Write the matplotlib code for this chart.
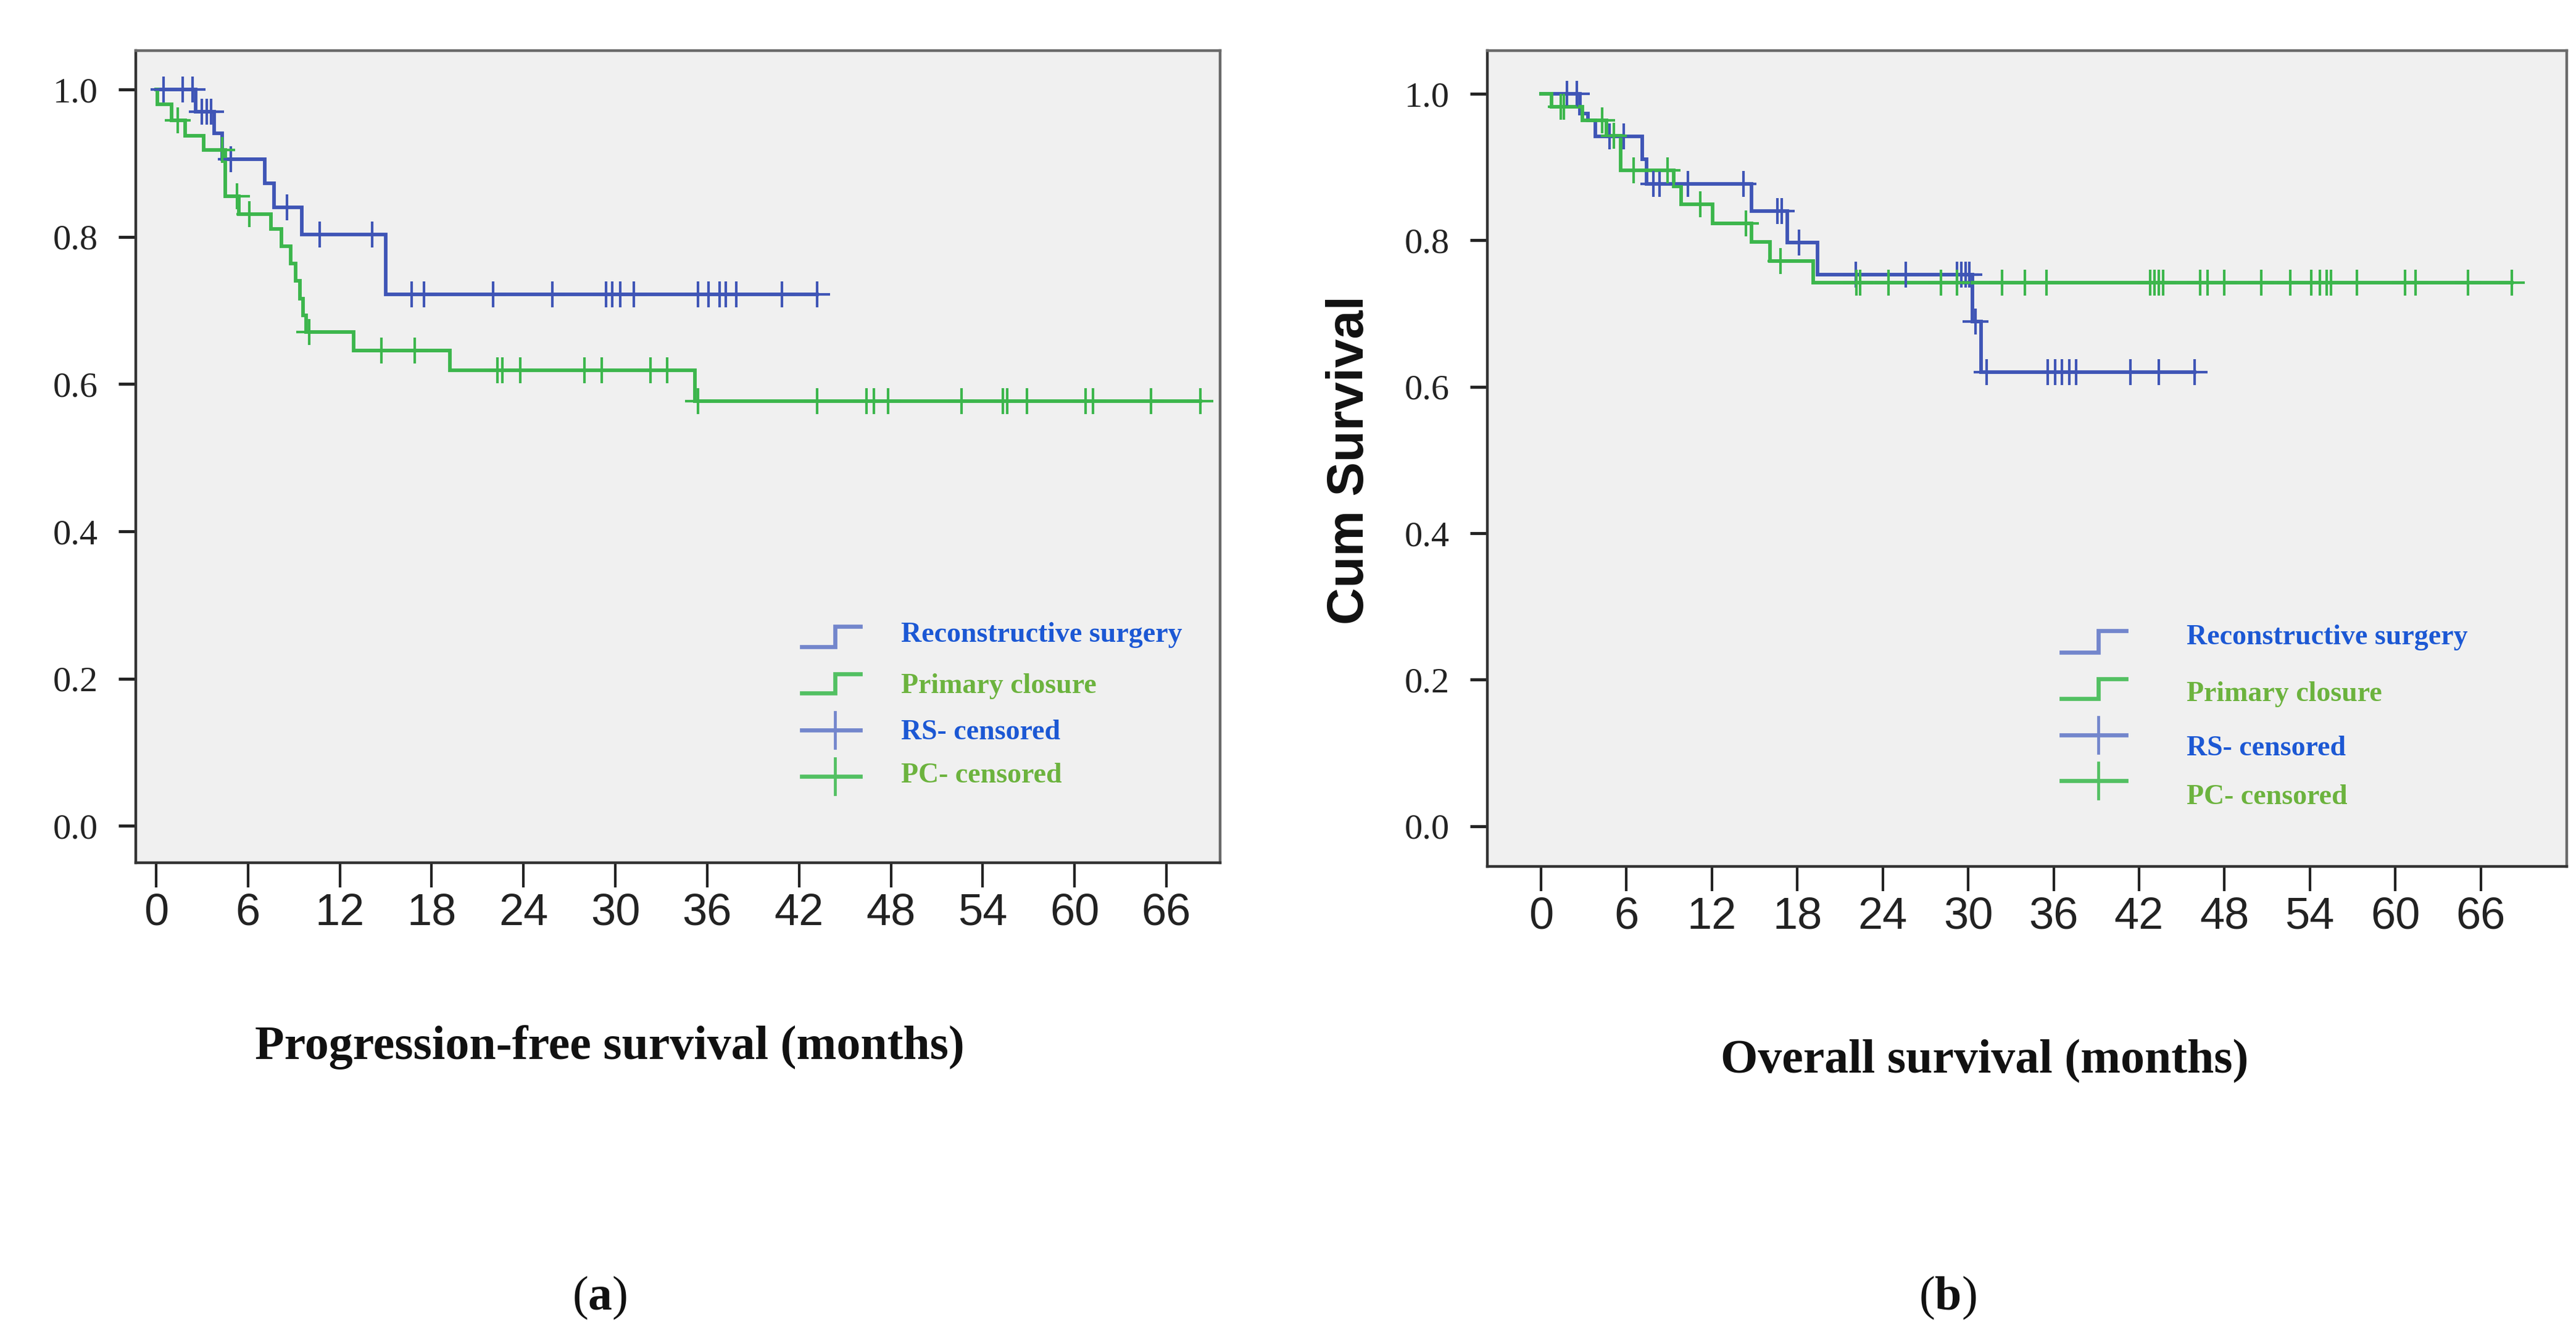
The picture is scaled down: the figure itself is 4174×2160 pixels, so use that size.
import matplotlib
matplotlib.use("Agg")
import matplotlib.pyplot as plt
import numpy as np
from matplotlib import font_manager

# progression-free survival, reconstructive surgery (RS) and primary closure (PC)
pfs_rs_times = [0, 2.6, 3.8, 4.3, 7.1, 7.7, 9.5, 15.0]
pfs_rs_surv = [1.0, 0.970, 0.941, 0.905, 0.873, 0.840, 0.803, 0.722]
pfs_rs_cens = [0.5, 1.75, 2.4, 3.0, 3.3, 3.6, 4.9, 8.55, 10.7, 14.1, 16.7, 17.5, 22.0, 25.9,
               29.4, 29.8, 30.3, 31.2, 35.4, 36.1, 36.8, 37.2, 37.9, 40.9, 43.2]

pfs_pc_times = [0, 0.1, 1.0, 1.9, 3.1, 4.5, 5.4, 7.5, 8.2, 8.8, 9.1, 9.4, 9.6, 9.8, 12.9, 19.2, 35.2]
pfs_pc_surv = [1.0, 0.980, 0.958, 0.937, 0.918, 0.855, 0.831, 0.811, 0.787, 0.764, 0.740, 0.716,
               0.693, 0.671, 0.6455, 0.6185, 0.577]
pfs_pc_cens = [1.4, 4.3, 5.3, 6.1, 10.0, 14.7, 16.9, 22.3, 22.6, 23.8, 28.0, 29.1, 32.3, 33.4,
               35.4, 43.2, 46.4, 46.9, 47.8, 52.6, 55.3, 55.6, 56.9, 60.7, 61.2, 65.0, 68.2]

# overall survival
os_rs_times = [0, 2.75, 3.3, 3.8, 7.1, 7.4, 14.8, 17.3, 19.4, 30.3, 30.9]
os_rs_surv = [1.0, 0.973, 0.964, 0.942, 0.911, 0.877, 0.840, 0.797, 0.753, 0.689, 0.620]
os_rs_cens = [1.8, 2.5, 4.8, 5.8, 7.9, 8.3, 10.3, 14.2, 16.6, 16.9, 18.1, 22.1, 25.6, 29.2,
              29.5, 29.8, 30.1, 30.5, 31.3, 35.6, 36.1, 36.6, 37.1, 37.6, 41.4, 43.4, 45.9]

os_pc_times = [0, 0.75, 2.9, 4.6, 5.6, 9.3, 9.85, 12.06, 14.8, 16.07, 19.1]
os_pc_surv = [1.0, 0.982, 0.964, 0.943, 0.896, 0.874, 0.849, 0.823, 0.798, 0.772, 0.742]
os_pc_cens = [1.4, 1.6, 4.3, 5.1, 6.5, 8.9, 11.2, 14.4, 16.8, 22.15, 22.4, 24.4, 28.1, 29.2,
              32.4, 34.0, 35.5, 42.8, 43.1, 43.4, 43.7, 46.3, 46.8, 48.0, 50.6, 52.6, 54.1,
              54.7, 55.2, 55.5, 57.3, 60.7, 61.4, 65.1, 68.2]

x_ticks = list(range(0, 67, 6))
y_ticks = [0.0, 0.2, 0.4, 0.6, 0.8, 1.0]
legend_labels = ["Reconstructive surgery", "Primary closure", "RS- censored", "PC- censored"]

BLUE = "#3f55b6"
GREEN = "#3cb64c"
BLUE_LIGHT = "#7386cc"
GREEN_LIGHT = "#52c062"
BLUE_TXT = "#1c58d4"
GREEN_TXT = "#6cb33e"

SERIF = "Liberation Serif"


def pick_font(names):
    for name in names:
        try:
            font_manager.findfont(font_manager.FontProperties(family=name), fallback_to_default=False)
            return name
        except Exception:
            continue
    return "DejaVu Sans"


NARROW = pick_font(["Liberation Sans Narrow", "DejaVu Sans Condensed", "Liberation Sans"])

plt.rcParams["mathtext.fontset"] = "custom"
plt.rcParams["mathtext.rm"] = SERIF
plt.rcParams["mathtext.bf"] = SERIF + ":bold"


def surv_at(times, surv, t):
    idx = np.searchsorted(np.asarray(times), np.asarray(t), side="right") - 1
    return np.asarray(surv)[idx]


def draw_curve(ax, times, surv, cens, color):
    end = max(cens[-1], times[-1])
    ax.step(list(times) + [end], list(surv) + [surv[-1]], where="post", color=color, lw=4.2,
            solid_joinstyle="miter", zorder=3)
    ax.plot(cens, surv_at(times, surv, cens), linestyle="none", marker="+", ms=30, mew=3.0,
            color=color, zorder=4)


def style_axes(ax, xlim, ylim):
    ax.set_facecolor("#f0f0f0")
    ax.set_xlim(*xlim)
    ax.set_ylim(*ylim)
    ax.set_xticks(x_ticks)
    ax.set_yticks(y_ticks)
    ax.set_yticklabels([f"{v:.1f}" for v in y_ticks], fontfamily=SERIF, fontsize=42, color="#222222")
    ax.set_xticklabels([str(v) for v in x_ticks], fontfamily=NARROW, fontsize=52, color="#222222")
    ax.tick_params(axis="y", length=20, width=3.5, pad=24, color="#222222")
    ax.tick_params(axis="x", length=29, width=3.0, pad=6, color="#222222")
    for side, spine in ax.spines.items():
        spine.set_linewidth(3.2)
        spine.set_color("#333333" if side in ("left", "bottom") else "#6a6a6a")


def draw_legend(ax, hx, rows, text_x, text_ys):
    # rows: (kind, colour, y) in axes fraction; hx = (x0, x1)
    x0, x1 = hx
    xm = x0 + 0.57 * (x1 - x0)
    tr = ax.transAxes
    for (kind, col, y), label, ty, tcol in zip(rows, legend_labels, text_ys,
                                             [BLUE_TXT, GREEN_TXT, BLUE_TXT, GREEN_TXT]):
        if kind == "step":
            lo, hi = y
            ax.plot([x0, xm, xm, x1], [lo, lo, hi, hi], color=col, lw=4.8, transform=tr,
                    solid_joinstyle="miter", clip_on=False, zorder=5)
        else:
            ax.plot([x0, x1], [y, y], color=col, lw=4.8, transform=tr, clip_on=False, zorder=5)
            ax.plot([xm, xm], [y - 0.022, y + 0.022], color=col, lw=3.4, transform=tr,
                    clip_on=False, zorder=5)
        ax.text(text_x, ty, label, transform=tr, fontfamily=SERIF, fontweight="bold",
                fontsize=33, color=tcol, va="center", ha="left")


fig = plt.figure(figsize=(41.74, 21.6), dpi=100)

ax1 = fig.add_axes([0.0527, 0.3528, 0.4209, 0.6093])
draw_curve(ax1, pfs_rs_times, pfs_rs_surv, pfs_rs_cens, BLUE)
draw_curve(ax1, pfs_pc_times, pfs_pc_surv, pfs_pc_cens, GREEN)
style_axes(ax1, (-1.33, 69.5), (-0.05, 1.053))
draw_legend(ax1, (0.614, 0.668),
            [("step", BLUE_LIGHT, (0.266, 0.291)), ("step", GREEN_LIGHT, (0.209, 0.2325)),
             ("cross", BLUE_LIGHT, 0.163), ("cross", GREEN_LIGHT, 0.106)],
            0.706, [0.280, 0.217, 0.160, 0.107])

ax2 = fig.add_axes([0.5774, 0.35, 0.4190, 0.612])
draw_curve(ax2, os_rs_times, os_rs_surv, os_rs_cens, BLUE)
draw_curve(ax2, os_pc_times, os_pc_surv, os_pc_cens, GREEN)
style_axes(ax2, (-3.77, 72.04), (-0.055, 1.059))
draw_legend(ax2, (0.532, 0.592),
            [("step", BLUE_LIGHT, (0.2625, 0.289)), ("step", GREEN_LIGHT, (0.206, 0.230)),
             ("cross", BLUE_LIGHT, 0.161), ("cross", GREEN_LIGHT, 0.105)],
            0.648, [0.2806, 0.211, 0.1445, 0.0847])

fig.text(0.524, 0.655, "Cum Survival", rotation=90, ha="center", va="center",
         fontfamily="Liberation Sans", fontweight="bold", fontsize=60, color="#111111")

fig.text(0.2367, 0.2144, "Progression-free survival (months)", ha="center", va="center",
         fontfamily=SERIF, fontweight="bold", fontsize=56, color="#111111")
fig.text(0.7703, 0.2037, "Overall survival (months)", ha="center", va="center",
         fontfamily=SERIF, fontweight="bold", fontsize=56, color="#111111")

fig.text(0.2329, 0.0264, r"($\mathbf{a}$)", ha="center", va="center", fontfamily=SERIF,
         fontsize=56, color="#111111")
fig.text(0.7561, 0.0264, r"($\mathbf{b}$)", ha="center", va="center", fontfamily=SERIF,
         fontsize=56, color="#111111")

fig.savefig("out.png", dpi=100, facecolor="white")
